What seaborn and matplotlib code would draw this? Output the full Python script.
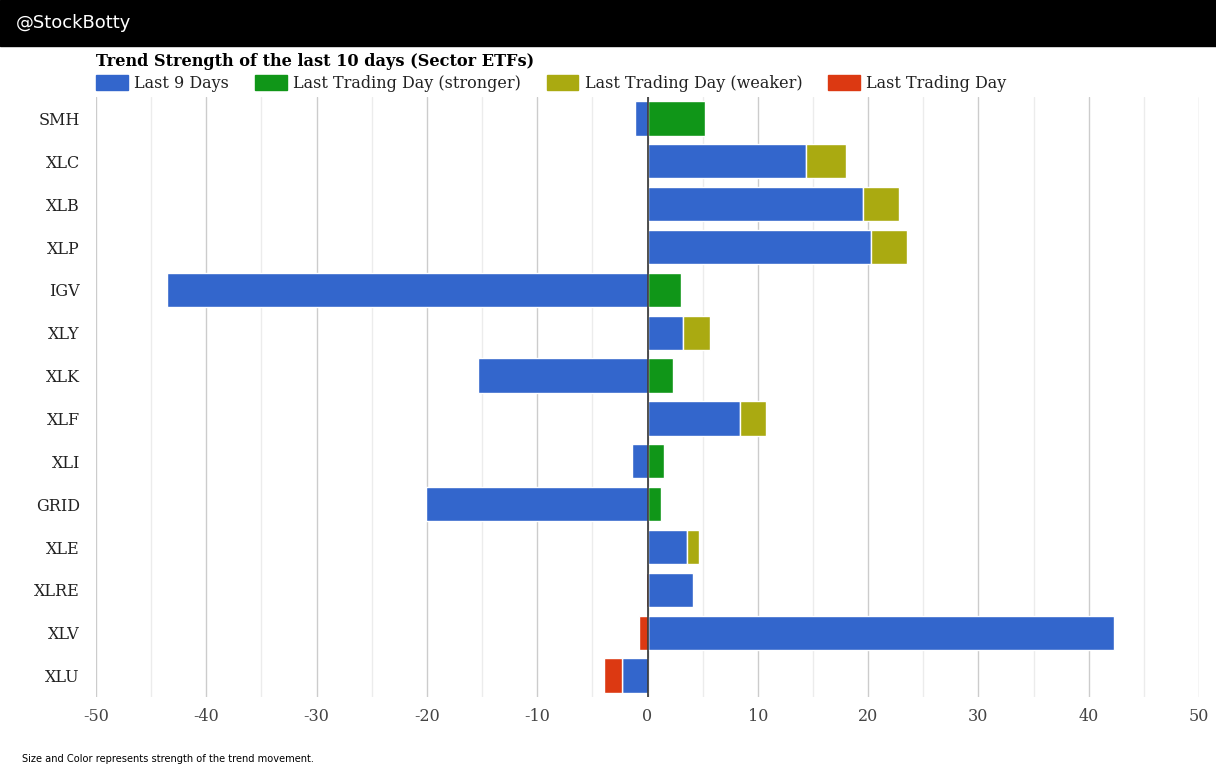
import pandas as pd
import numpy as np
import matplotlib
matplotlib.use('Agg')
import matplotlib.pyplot as plt
from matplotlib.patches import Patch
from matplotlib.ticker import MultipleLocator
import seaborn as sns

# tickers, top to bottom
tickers = ["SMH", "XLC", "XLB", "XLP", "IGV", "XLY", "XLK", "XLF", "XLI", "GRID", "XLE", "XLRE", "XLV", "XLU"]
# move over the last 9 days
last9 = [-1.1, 14.4, 19.5, 20.3, -43.6, 3.2, -15.4, 8.4, -1.4, -20.1, 3.55, 4.1, 42.3, -2.35]
# move on the last trading day
last_day = [5.2, 3.6, 3.3, 3.2, 3.0, 2.5, 2.35, 2.3, 1.5, 1.25, 1.15, -0.1, -0.75, -1.55]
# kind of the last day segment
last_kind = ["stronger", "weaker", "weaker", "weaker", "stronger", "weaker", "stronger", "weaker",
             "stronger", "stronger", "weaker", "last", "last", "last"]

c_blue = "#3366CC"
c_green = "#109618"
c_olive = "#AAAA11"
c_red = "#DC3912"
kind_colors = {"stronger": c_green, "weaker": c_olive, "last": c_red}

df = pd.DataFrame({"ticker": tickers, "last9": last9, "last_day": last_day, "kind": last_kind})

sns.set_style("white")
plt.rcParams['font.family'] = ['DejaVu Serif']
plt.rcParams['axes.unicode_minus'] = False

fig = plt.figure(figsize=(12.16, 7.69), dpi=100)
ax = fig.add_axes([96 / 1216, 1 - 697 / 769, (1199 - 96) / 1216, 600 / 769])

sns.barplot(data=df, x="last9", y="ticker", color=c_blue, saturation=1, width=0.8,
            orient="h", ax=ax, edgecolor="white", linewidth=1, zorder=3)

# last day segment stacks on blue when same sign, else starts at zero
lefts = np.where(np.sign(df["last_day"]) == np.sign(df["last9"]), df["last9"], 0)
ax.barh(np.arange(len(df)), df["last_day"], left=lefts, height=0.8,
        color=[kind_colors[k] for k in df["kind"]], edgecolor="white", linewidth=1, zorder=3)

ax.set_xlim(-50, 50)
ax.set_ylim(len(df) - 0.5, -0.5)
ax.xaxis.set_major_locator(MultipleLocator(10))
ax.xaxis.set_minor_locator(MultipleLocator(5))
ax.grid(which="major", axis="x", color="#cccccc", linewidth=1, zorder=0)
ax.grid(which="minor", axis="x", color="#ececec", linewidth=1, zorder=0)
ax.axvline(0, color="#333333", linewidth=1.2, zorder=4)
for s in ax.spines.values():
    s.set_visible(False)
ax.set_xlabel("")
ax.set_ylabel("")
ax.tick_params(axis="both", which="both", length=0, labelsize=11.5)
ax.tick_params(axis="x", pad=8, labelcolor="#444444")
ax.tick_params(axis="y", pad=11.5, labelcolor="#222222")

# header band
fig.patches.append(plt.Rectangle((0, 1 - 46 / 769), 1, 46 / 769, transform=fig.transFigure,
                                 color="black", zorder=0))
fig.text(16 / 1216, 1 - 23 / 769, "@StockBotty", color="white", fontsize=13,
         family="DejaVu Sans", va="center", ha="left")

fig.text(96 / 1216, 1 - 62 / 769, "Trend Strength of the last 10 days (Sector ETFs)",
         fontsize=11.6, fontweight="bold", va="center", ha="left", color="black")

handles = [Patch(color=c_blue, label="Last 9 Days"),
           Patch(color=c_green, label="Last Trading Day (stronger)"),
           Patch(color=c_olive, label="Last Trading Day (weaker)"),
           Patch(color=c_red, label="Last Trading Day")]
leg = fig.legend(handles=handles, loc="center left", bbox_to_anchor=(96 / 1216, 1 - 83.5 / 769),
                 ncol=4, frameon=False, fontsize=11.5, handlelength=2, handleheight=1.05,
                 handletextpad=0.4, columnspacing=1.6, borderpad=0, borderaxespad=0)
for t in leg.get_texts():
    t.set_color("#222222")

fig.text(22 / 1216, 1 - 759 / 769, "Size and Color represents strength of the trend movement.",
         fontsize=7.15, family="DejaVu Sans", va="center", ha="left", color="black")

fig.savefig("out.png", dpi=100)
